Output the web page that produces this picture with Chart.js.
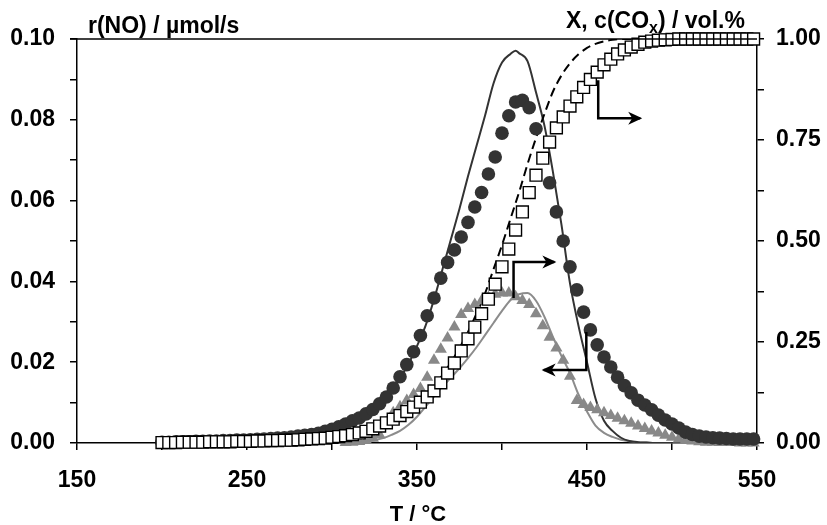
<!DOCTYPE html>
<html>
<head>
<meta charset="utf-8">
<script src="https://cdn.jsdelivr.net/npm/chart.js@4.4.1/dist/chart.umd.min.js"></script>
<style>
  html, body { margin: 0; padding: 0; background: #fff; }
  canvas { display: block; }
</style>
</head>
<body>
<canvas id="tpoChart" width="827" height="525"></canvas>
<script>
// measured points (every 4 °C)
const tempMeas = [200, 204, 208, 212, 216, 220, 224, 228, 232, 236,
    240, 244, 248, 252, 256, 260, 264, 268, 272, 276,
    280, 284, 288, 292, 296, 300, 304, 308, 312, 316,
    320, 324, 328, 332, 336, 340, 344, 348, 352, 356,
    360, 364, 368, 372, 376, 380, 384, 388, 392, 396,
    400, 404, 408, 412, 416, 420, 424, 428, 432, 436,
    440, 444, 448, 452, 456, 460, 464, 468, 472, 476,
    480, 484, 488, 492, 496, 500, 504, 508, 512, 516,
    520, 524, 528, 532, 536, 540, 544, 548];

// X / c(COx), right axis (open squares)
const convX = [0.001, 0.001, 0.001, 0.002, 0.002, 0.002, 0.002, 0.003, 0.003, 0.003,
    0.003, 0.004, 0.004, 0.004, 0.005, 0.005, 0.006, 0.006, 0.007, 0.007,
    0.008, 0.009, 0.010, 0.011, 0.012, 0.014, 0.016, 0.018, 0.021, 0.025,
    0.029, 0.035, 0.042, 0.050, 0.059, 0.068, 0.078, 0.089, 0.101, 0.114,
    0.129, 0.149, 0.173, 0.198, 0.228, 0.258, 0.287, 0.320, 0.356, 0.393,
    0.436, 0.480, 0.527, 0.572, 0.620, 0.663, 0.705, 0.745, 0.780, 0.807,
    0.834, 0.857, 0.880, 0.900, 0.918, 0.936, 0.950, 0.963, 0.973, 0.980,
    0.987, 0.992, 0.995, 0.997, 0.998, 0.999, 1.0, 1.0, 1.0, 1.0,
    1.0, 1.0, 1.0, 1.0, 1.0, 1.0, 1.0, 1.0];

// r(NO), left axis (dark circles)
const rateNO = [0.0002, 0.0002, 0.0003, 0.0003, 0.0003, 0.0004, 0.0004, 0.0005, 0.0005, 0.0006,
    0.0006, 0.0007, 0.0007, 0.0008, 0.0009, 0.0010, 0.0011, 0.0012, 0.0013, 0.0015,
    0.0017, 0.0019, 0.0021, 0.0024, 0.0029, 0.0034, 0.0040, 0.0047, 0.0055, 0.0062,
    0.0072, 0.0083, 0.0097, 0.0114, 0.0136, 0.0164, 0.0194, 0.0226, 0.0266, 0.0315,
    0.0359, 0.0408, 0.0447, 0.0478, 0.0510, 0.0546, 0.0584, 0.0620, 0.0666, 0.0708,
    0.0767, 0.0810, 0.0844, 0.0848, 0.0830, 0.0778, null, 0.0644, 0.0572, 0.0500,
    0.0436, 0.0379, 0.0324, 0.0280, 0.0243, 0.0213, 0.0188, 0.0163, 0.0142, 0.0124,
    0.0106, 0.0094, 0.0082, 0.0069, 0.0057, 0.0047, 0.0037, 0.0027, 0.0021, 0.0017,
    0.0015, 0.0013, 0.0012, 0.0011, 0.0010, 0.0010, 0.0010, 0.0010];

// r(NO), left axis (grey triangles)
const rateNO2 = [null, null, null, null, null, null, null, null, null, null,
    null, null, null, null, null, null, null, null, null, null,
    null, null, null, null, null, null, null, 0.0001, 0.0002, 0.0004,
    0.0007, 0.0012, 0.0020, 0.0050, 0.0075, 0.0090, 0.0105, 0.0120, 0.0135, 0.0163,
    0.0205, 0.0232, 0.0260, 0.0287, 0.0318, 0.0333, 0.0343, 0.0352, 0.0360, 0.0368,
    0.0371, 0.0371, 0.0362, 0.0353, 0.0343, 0.0320, 0.0290, 0.0262, 0.0235, 0.0205,
    0.0165, 0.0105, 0.0095, 0.0088, 0.0082, 0.0075, 0.0068, 0.0061, 0.0055, 0.0049,
    0.0042, 0.0036, 0.0030, 0.0025, 0.0019, 0.0014, 0.0010, 0.0007, 0.0005, 0.0003,
    0.0002, 0.0002, 0.0001, 0.0001, 0.0001, 0, 0, 0];

// simulated curves
const tempSim = [200, 205, 210, 215, 220, 225, 230, 235, 240, 245,
    250, 255, 260, 265, 270, 275, 280, 285, 290, 295,
    300, 305, 310, 315, 320, 325, 330, 335, 340, 345,
    350, 355, 360, 365, 370, 375, 380, 385, 390, 395,
    400, 405, 408, 410, 415, 420, 425, 430, 435, 440, 445,
    450, 455, 460, 465, 470, 475, 480, 485, 490, 495,
    500, 505, 510, 515, 520, 525, 530, 535, 540, 545, 550];

const simRate = [0.0003, 0.0003, 0.0004, 0.0004, 0.0005, 0.0005, 0.0006, 0.0006, 0.0007, 0.0008,
    0.0009, 0.0010, 0.0011, 0.0012, 0.0014, 0.0016, 0.0018, 0.0021, 0.0024, 0.0028,
    0.0033, 0.0040, 0.0048, 0.0058, 0.0070, 0.0085, 0.0105, 0.0130, 0.0160, 0.0196,
    0.0240, 0.0290, 0.0355, 0.0430, 0.0505, 0.0580, 0.0660, 0.0735, 0.0810, 0.0890,
    0.0942, 0.0963, 0.0971, 0.0965, 0.0945, 0.0868, 0.0785, 0.0670, 0.0540, 0.0395, 0.0290,
    0.0200, 0.0110, 0.0055, 0.0030, 0.0013, 0.0005, 0.0002, 0.0001, 0, 0,
    0, 0, 0, 0, 0, 0, 0, 0, 0, 0, 0];

const simRate2 = [0, 0, 0, 0, 0, 0, 0, 0, 0, 0,
    0, 0, 0, 0, 0, 0, 0, 0, 0, 0,
    0, 0, 0.0001, 0.0002, 0.0004, 0.0007, 0.0012, 0.0020, 0.0030, 0.0045,
    0.0065, 0.0090, 0.0115, 0.0140, 0.0162, 0.0185, 0.0210, 0.0237, 0.0267, 0.0297,
    0.0327, 0.0354, 0.0364, 0.0368, 0.0371, 0.0352, 0.0312, 0.0262, 0.0215, 0.0173, 0.0120,
    0.0078, 0.0043, 0.0025, 0.0015, 0.0008, 0.0004, 0.0002, 0.0001, 0, 0,
    0, 0, 0, 0, 0, 0, 0, 0, 0, 0, 0];

const simConv = [0.001, 0.001, 0.001, 0.001, 0.002, 0.002, 0.002, 0.002, 0.003, 0.003,
    0.003, 0.004, 0.004, 0.005, 0.005, 0.006, 0.007, 0.008, 0.009, 0.010,
    0.012, 0.014, 0.017, 0.021, 0.026, 0.033, 0.042, 0.053, 0.066, 0.081,
    0.098, 0.118, 0.141, 0.168, 0.200, 0.235, 0.275, 0.320, 0.370, 0.430,
    0.490, 0.555, 0.594, 0.620, 0.690, 0.755, 0.815, 0.870, 0.910, 0.940, 0.962,
    0.978, 0.988, 0.994, 0.998, 1.0, 1.0, 1.0, 1.0, 1.0, 1.0,
    1.0, 1.0, 1.0, 1.0, 1.0, 1.0, 1.0, 1.0, 1.0, 1.0, 1.0];

// axis ticks
const xTicksShown = [150, 250, 350, 450, 550];
const yLeftShown = [0, 0.02, 0.04, 0.06, 0.08, 0.10];
const yRightShown = [0, 0.25, 0.5, 0.75, 1.0];

// arrows pointing to their axis, in data units
const arrows = [
    { axis: 'y2', pts: [[456.6, 0.898], [456.6, 0.804], [481.3, 0.804]] },
    { axis: 'y2', pts: [[406.8, 0.359], [406.8, 0.448], [430.8, 0.448]] },
    { axis: 'y', pts: [[449.6, 0.0275], [449.6, 0.0181], [424.5, 0.0181]] }
];

function pairs(xs, ys) {
    return xs.map(function (t, i) { return { x: t, y: ys[i] }; });
}

var FONT = '"Liberation Sans", Arial, sans-serif';

var overlay = {
    id: 'overlay',
    afterDatasetsDraw: function (chart) {
        var ctx = chart.ctx;
        var area = chart.chartArea;
        var xs = chart.scales.x;
        ctx.save();
        // top frame line
        ctx.strokeStyle = '#000';
        ctx.lineWidth = 1.5;
        ctx.beginPath();
        ctx.moveTo(area.left - 7, area.top);
        ctx.lineTo(area.right, area.top);
        ctx.stroke();

        // arrows
        arrows.forEach(function (a) {
            var ys = chart.scales[a.axis];
            var p = a.pts.map(function (q) { return [xs.getPixelForValue(q[0]), ys.getPixelForValue(q[1])]; });
            ctx.strokeStyle = '#000';
            ctx.lineWidth = 2.5;
            ctx.beginPath();
            ctx.moveTo(p[0][0], p[0][1]);
            for (var i = 1; i < p.length; i++) ctx.lineTo(p[i][0], p[i][1]);
            ctx.stroke();
            var end = p[p.length - 1], prev = p[p.length - 2];
            var ang = Math.atan2(end[1] - prev[1], end[0] - prev[0]);
            ctx.translate(end[0], end[1]);
            ctx.rotate(ang);
            ctx.fillStyle = '#000';
            ctx.beginPath();
            ctx.moveTo(2, 0);
            ctx.lineTo(-12, -6.5);
            ctx.lineTo(-8, 0);
            ctx.lineTo(-12, 6.5);
            ctx.closePath();
            ctx.fill();
            ctx.setTransform(1, 0, 0, 1, 0, 0);
        });
        ctx.restore();
    },
    afterDraw: function (chart) {
        var ctx = chart.ctx;
        ctx.save();
        ctx.fillStyle = '#000';
        ctx.textBaseline = 'alphabetic';
        ctx.textAlign = 'left';
        ctx.font = 'bold 23px ' + FONT;
        ctx.fillText('r(NO) / µmol/s', 88, 33);

        // right title with subscript
        var x = 566, base = 28;
        ctx.fillText('X, c(CO', x, base);
        x += ctx.measureText('X, c(CO').width;
        ctx.font = 'bold 16px ' + FONT;
        ctx.fillText('x', x, base + 5);
        x += ctx.measureText('x').width;
        ctx.font = 'bold 23px ' + FONT;
        ctx.fillText(') / vol.%', x, base);

        ctx.textAlign = 'center';
        ctx.font = 'bold 22px ' + FONT;
        ctx.fillText('T / °C', 418, 521);
        ctx.restore();
    }
};

function axisStyle() {
    return {
        grid: { drawOnChartArea: false, drawTicks: true, tickLength: 7, color: '#000', lineWidth: 1.5 },
        border: { color: '#000', width: 1.5 }
    };
}

var xAxis = Object.assign(axisStyle(), {
    type: 'linear', position: 'bottom', min: 150, max: 550,
    ticks: {
        stepSize: 50, color: '#000', padding: 17, maxRotation: 0, autoSkip: false,
        font: { family: FONT, size: 23, weight: 'bold' },
        callback: function (v) { return xTicksShown.indexOf(v) >= 0 ? String(v) : ''; }
    },
    afterFit: function (s) { s.height = 82; }
});

var yAxis = Object.assign(axisStyle(), {
    type: 'linear', position: 'left', min: 0, max: 0.1,
    ticks: {
        stepSize: 0.01, color: '#000', padding: 15, autoSkip: false,
        font: { family: FONT, size: 23, weight: 'bold' },
        callback: function (v) {
            var shown = yLeftShown.some(function (s) { return Math.abs(s - v) < 1e-6; });
            return shown ? v.toFixed(2) : '';
        }
    },
    afterFit: function (s) { s.width = 77; }
});

var y2Axis = Object.assign(axisStyle(), {
    type: 'linear', position: 'right', min: 0, max: 1,
    ticks: {
        stepSize: 0.125, color: '#000', padding: 12, autoSkip: false,
        font: { family: FONT, size: 23, weight: 'bold' },
        callback: function (v) {
            var shown = yRightShown.some(function (s) { return Math.abs(s - v) < 1e-6; });
            return shown ? v.toFixed(2) : '';
        }
    },
    afterFit: function (s) { s.width = 70; }
});

var ctx = document.getElementById('tpoChart').getContext('2d');
new Chart(ctx, {
    type: 'scatter',
    data: {
        datasets: [
            {
                label: 'X (measured)', data: pairs(tempMeas, convX), yAxisID: 'y2', order: 0,
                pointStyle: 'rect', pointRadius: 8.4, backgroundColor: '#fff',
                borderColor: '#000', borderWidth: 1.4, clip: false
            },
            {
                label: 'r(NO) measured', data: pairs(tempMeas, rateNO), yAxisID: 'y', order: 1,
                pointStyle: 'circle', pointRadius: 6.8, backgroundColor: '#333',
                borderColor: '#333', borderWidth: 0, clip: false
            },
            {
                label: 'r(NO) measured 2', data: pairs(tempMeas, rateNO2), yAxisID: 'y', order: 2,
                pointStyle: 'triangle', pointRadius: 7, backgroundColor: '#888',
                borderColor: '#888', borderWidth: 0, clip: false
            },
            {
                label: 'X (simulated)', data: pairs(tempSim, simConv), yAxisID: 'y2', order: 3,
                showLine: true, pointRadius: 0, borderColor: '#000', borderWidth: 2,
                borderDash: [9, 5], cubicInterpolationMode: 'monotone'
            },
            {
                label: 'r(NO) simulated', data: pairs(tempSim, simRate), yAxisID: 'y', order: 4,
                showLine: true, pointRadius: 0, borderColor: '#333', borderWidth: 2,
                cubicInterpolationMode: 'monotone'
            },
            {
                label: 'r(NO) simulated 2', data: pairs(tempSim, simRate2), yAxisID: 'y', order: 5,
                showLine: true, pointRadius: 0, borderColor: '#8c8c8c', borderWidth: 2,
                cubicInterpolationMode: 'monotone'
            }
        ]
    },
    options: {
        responsive: false,
        animation: false,
        devicePixelRatio: 1,
        layout: { padding: { top: 39, left: 0, right: 0, bottom: 0 } },
        plugins: { legend: { display: false }, tooltip: { enabled: false } },
        scales: { x: xAxis, y: yAxis, y2: y2Axis }
    },
    plugins: [overlay]
});
</script>
</body>
</html>
